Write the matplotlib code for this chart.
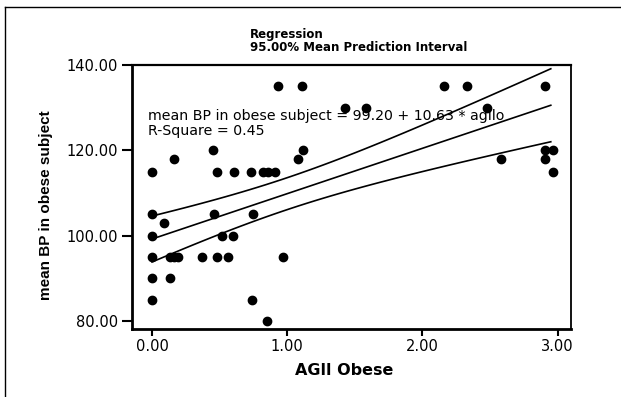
import matplotlib
matplotlib.use("Agg")
import matplotlib.pyplot as plt
import numpy as np

# AGll Obese (x) vs mean BP in obese subject (y)
agll = [0.00, 0.00, 0.00, 0.00, 0.00, 0.00, 0.09, 0.16, 0.13, 0.16, 0.19,
        0.37, 0.48, 0.56, 0.97, 0.13, 0.74, 0.85, 0.52, 0.60, 0.46, 0.75,
        0.45, 0.48, 0.61, 0.73, 0.82, 0.86, 0.91, 0.93, 1.11, 1.08, 1.12,
        1.43, 1.58, 2.16, 2.33, 2.91, 2.48, 2.58, 2.91, 2.97, 2.91, 2.97]
mean_bp = [115, 105, 100, 95, 90, 85, 103, 118, 95, 95, 95,
           95, 95, 95, 95, 90, 85, 80, 100, 100, 105, 105,
           120, 115, 115, 115, 115, 115, 115, 135, 135, 118, 120,
           130, 130, 135, 135, 135, 130, 118, 120, 120, 118, 115]

# fit shown in the chart
intercept = 99.20
slope = 10.63
r_square = 0.45

x = np.array(agll)
y = np.array(mean_bp)
n = len(x)

# 95% mean prediction interval around the fitted line
xs = np.linspace(0, 2.95, 50)
fit = intercept + slope * xs
resid = y - (intercept + slope * x)
s = np.sqrt(np.sum(resid ** 2) / (n - 2))
sxx = np.sum((x - x.mean()) ** 2)
half = 2.01 * s * np.sqrt(1 / n + (xs - x.mean()) ** 2 / sxx)

fig = plt.figure(figsize=(6.21, 3.97), dpi=100)
ax = fig.add_axes([0.2126, 0.1713, 0.707, 0.665])

ax.plot(x, y, 'o', color='black', markersize=6)
ax.plot(xs, fit, color='black', lw=1.2)
ax.plot(xs, fit + half, color='black', lw=1.2)
ax.plot(xs, fit - half, color='black', lw=1.2)

ax.set_xlim(-0.148, 3.10)
ax.set_ylim(78.1, 140)
ax.set_xticks([0, 1, 2, 3])
ax.set_xticklabels(['0.00', '1.00', '2.00', '3.00'])
ax.set_yticks([80, 100, 120, 140])
ax.set_yticklabels(['80.00', '100.00', '120.00', '140.00'])
ax.tick_params(direction='out', length=7, width=1.5, labelsize=10.5, pad=3)
ax.tick_params(axis='x', length=5, pad=2)
for lab in ax.get_xticklabels() + ax.get_yticklabels():
    lab.set_fontfamily('DejaVu Sans')

ax.spines['left'].set_linewidth(2)
ax.spines['bottom'].set_linewidth(2)
ax.spines['top'].set_linewidth(1.6)
ax.spines['right'].set_linewidth(1.3)

ax.set_xlabel('AGll Obese', fontfamily='DejaVu Sans', fontweight='heavy',
              fontsize=11.5)
ax.xaxis.set_label_coords(0.484, -0.13)
ax.set_ylabel('mean BP in obese subject', fontfamily='Liberation Sans',
              fontweight='bold', fontsize=11)
ax.yaxis.set_label_coords(-0.18, 0.47)

ax.text(-0.03, 128.0, 'mean BP in obese subject = %.2f + %.2f * agllo' % (intercept, slope),
        fontfamily='DejaVu Sans', fontsize=10.2, va='center')
ax.text(-0.03, 124.5, 'R-Square = %.2f' % r_square,
        fontfamily='DejaVu Sans', fontsize=10.2, va='center')

fig.text(0.403, 0.904, 'Regression', fontfamily='DejaVu Sans',
         fontsize=8.5, fontweight='bold')
fig.text(0.403, 0.872, '95.00% Mean Prediction Interval', fontfamily='DejaVu Sans',
         fontsize=8.5, fontweight='bold')

# page border seen on left and top
fig.add_artist(plt.Line2D([0.008, 0.008], [0.0, 0.982], color='black', lw=1))
fig.add_artist(plt.Line2D([0.008, 1.0], [0.982, 0.982], color='black', lw=1))

fig.savefig('out.png', dpi=100)
